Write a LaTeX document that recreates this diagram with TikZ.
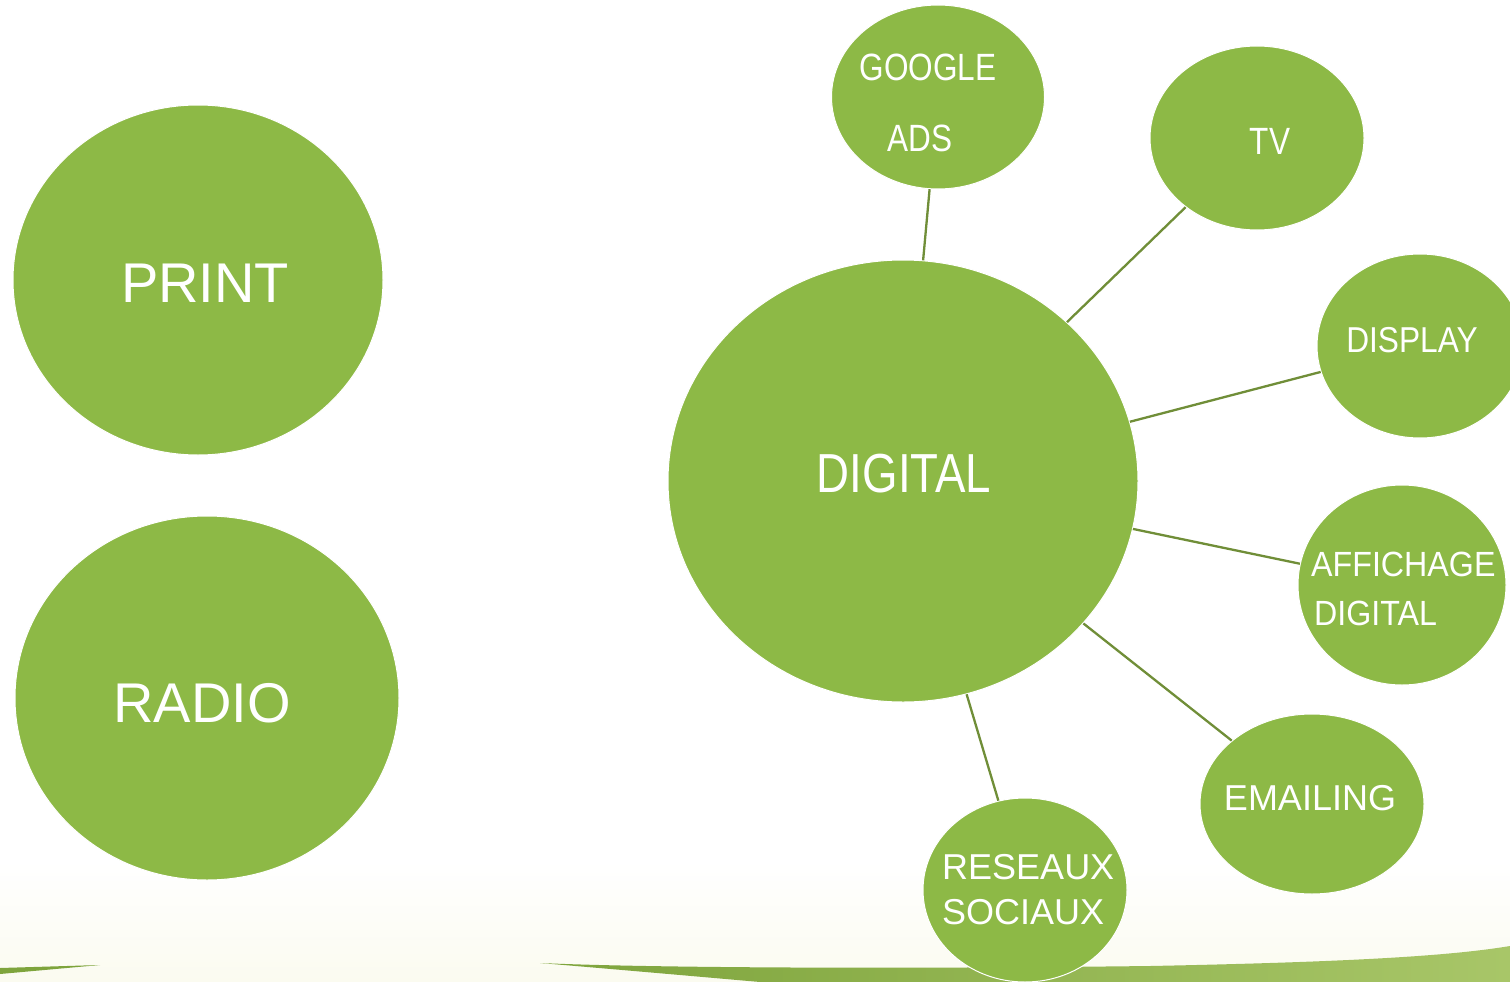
\documentclass[tikz,border=0pt]{standalone}
\usepackage{fontspec}
\setmainfont{Liberation Sans}
\newfontfamily\condA[FakeStretch=0.83]{Liberation Sans}
\newfontfamily\condB[FakeStretch=0.88]{Liberation Sans}
\newfontfamily\condC[FakeStretch=0.92]{Liberation Sans}
\usetikzlibrary{shapes.geometric}
\definecolor{leaf}{RGB}{141,185,70}
\definecolor{stem}{RGB}{112,142,56}
\definecolor{cream}{RGB}{251,251,240}
\definecolor{swoosh}{RGB}{126,164,60}
\definecolor{swooshlight}{RGB}{168,198,104}
\begin{document}
\begin{tikzpicture}[x=1pt,y=-1pt,
  bubble/.style={ellipse, fill=leaf, draw=white, line width=1pt, inner sep=0pt},
  link/.style={draw=stem, line width=2.3pt},
  lbl/.style={text=white, anchor=base, inner sep=0pt},
  lblw/.style={text=white, anchor=base west, inner sep=0pt}]
\useasboundingbox (0,0) rectangle (1510,982);
\fill[white] (0,0) rectangle (1510,982);
% background band and swoosh
\shade[top color=white, bottom color=cream] (0,860) rectangle (1510,982);
\fill[swoosh] (0,968) -- (100,965) -- (0,974) -- cycle;
\shade[left color=swoosh, right color=swooshlight]
  (540,963) .. controls (650,968) and (900,969) .. (1150,966)
  .. controls (1350,962) and (1450,956) .. (1510,946)
  -- (1510,982) -- (760,982)
  .. controls (680,975) and (600,968) .. (540,963) -- cycle;
% bubbles
\node[bubble, minimum width=370, minimum height=350] (print) at (198,280) {};
\node[bubble, minimum width=384, minimum height=364] (radio) at (207,698) {};
\node[bubble, minimum width=470, minimum height=442] (digital) at (903,481) {};
\node[bubble, minimum width=213, minimum height=184] (google) at (938,97) {};
\node[bubble, minimum width=214, minimum height=184] (tv) at (1257,138) {};
\node[bubble, minimum width=206, minimum height=184] (display) at (1420,346) {};
\node[bubble, minimum width=208, minimum height=200] (affichage) at (1402,585) {};
\node[bubble, minimum width=224, minimum height=180] (emailing) at (1312,804) {};
\node[bubble, minimum width=204, minimum height=184] (reseaux) at (1025,890) {};
% connectors
\draw[link] (digital) -- (google);
\draw[link] (digital) -- (tv);
\draw[link] (digital) -- (display);
\draw[link] (digital) -- (affichage);
\draw[link] (digital) -- (emailing);
\draw[link] (digital) -- (reseaux);
% labels
\node[lbl, font=\fontsize{56}{60}\selectfont] (tprint) at (205,302) {PRINT};
\node[lbl, font=\fontsize{56}{60}\selectfont] (tradio) at (202,722) {RADIO};
\node[lbl, font=\condA\fontsize{55}{60}\selectfont] (tdigital) at (904,492) {DIGITAL};
\node[lbl, font=\condA\fontsize{38}{40}\selectfont] (tgoogle) at (928,81) {GOOGLE};
\node[lbl, font=\condA\fontsize{38}{40}\selectfont] (tads) at (920,151) {ADS};
\node[lbl, font=\condA\fontsize{38}{40}\selectfont] (ttv) at (1270,154) {TV};
\node[lbl, font=\condB\fontsize{36}{40}\selectfont] (tdisplay) at (1412,352) {DISPLAY};
\node[lblw, font=\condC\fontsize{35}{40}\selectfont] (taff1) at (1311,576) {AFFICHAGE};
\node[lblw, font=\condC\fontsize{35}{40}\selectfont] (taff2) at (1314,625) {DIGITAL};
\node[lbl, font=\fontsize{36}{40}\selectfont] (temail) at (1310,810) {EMAILING};
\node[lblw, font=\fontsize{36}{40}\selectfont] (tres1) at (942,879) {RESEAUX};
\node[lblw, font=\fontsize{36}{40}\selectfont] (tres2) at (942,924) {SOCIAUX};
\end{tikzpicture}
\end{document}
